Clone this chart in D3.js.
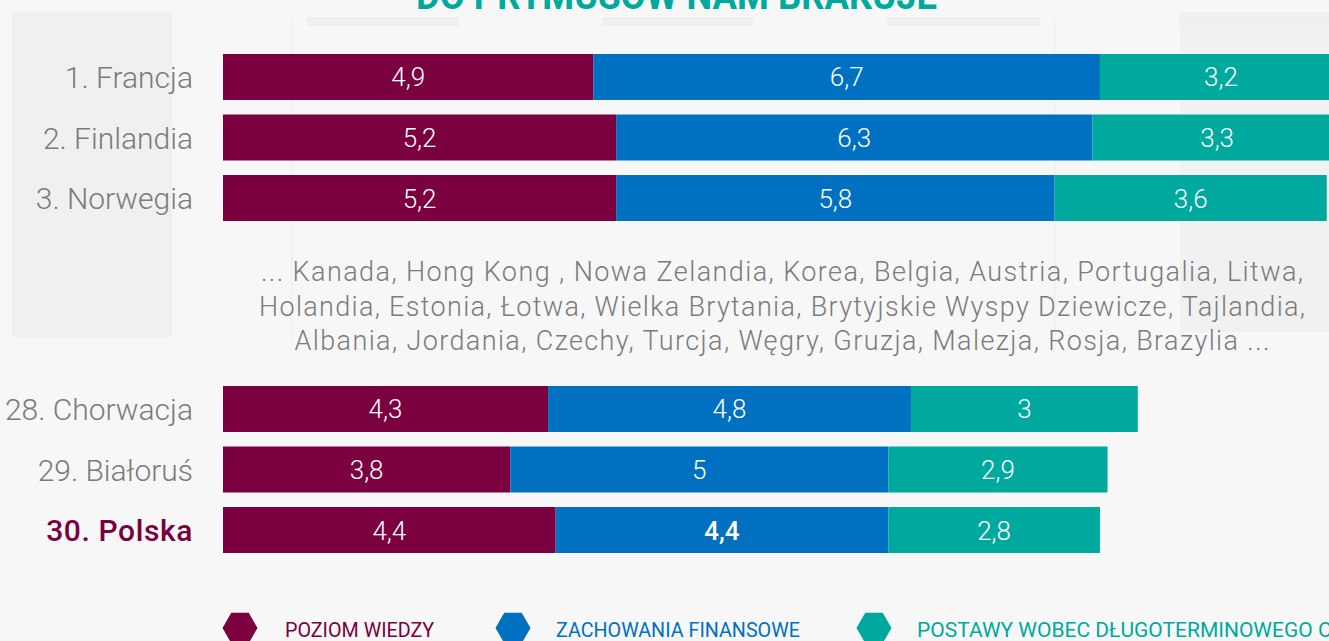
<!DOCTYPE html>
<html>
<head>
<meta charset="utf-8">
<script src="https://cdn.jsdelivr.net/npm/d3@7"></script>
<style>
  html, body { margin: 0; padding: 0; background: #f7f7f7; overflow: hidden; }
  svg { display: block; font-family: Roboto, "Noto Sans", sans-serif; }
</style>
</head>
<body>
<svg id="chart" width="1329" height="641"></svg>
<script>
// ---- data ----
const title = "DO PRYMUSÓW NAM BRAKUJE";
const topCountries = ["1. Francja", "2. Finlandia", "3. Norwegia"];
const bottomCountries = ["28. Chorwacja", "29. Białoruś", "30. Polska"];
const countries = topCountries.concat(bottomCountries);
const poziomWiedzy = [4.9, 5.2, 5.2, 4.3, 3.8, 4.4];
const zachowaniaFinansowe = [6.7, 6.3, 5.8, 4.8, 5, 4.4];
const postawy = [3.2, 3.3, 3.6, 3, 2.9, 2.8];
const seriesNames = ["POZIOM WIEDZY", "ZACHOWANIA FINANSOWE", "POSTAWY WOBEC DŁUGOTERMINOWEGO OSZCZĘDZANIA"];
const seriesKeys = ["wiedza", "zachowania", "postawy"];
const highlight = "30. Polska";
const otherCountries = [
  "... Kanada, Hong Kong , Nowa Zelandia, Korea, Belgia, Austria, Portugalia, Litwa,",
  "Holandia, Estonia, Łotwa, Wielka Brytania, Brytyjskie Wyspy Dziewicze, Tajlandia,",
  "Albania, Jordania, Czechy, Turcja, Węgry, Gruzja, Malezja, Rosja, Brazylia ..."
];

// ---- styles ----
const colors = ["#7a003f", "#0070c0", "#00a99d"];
const labelGray = "#7b7b7b";
const otherWidths = [1042, 1046, 975];
const legendScale = [0.94, 0.94, 1.0];

const table = countries.map((c, i) => ({
  country: c,
  wiedza: poziomWiedzy[i],
  zachowania: zachowaniaFinansowe[i],
  postawy: postawy[i]
}));

const svg = d3.select("#chart");

// background decoration (photo-like faint panels)
const bg = svg.append("g");
bg.append("rect").attr("x", 0).attr("y", 0).attr("width", 1329).attr("height", 641).attr("fill", "#f7f7f7");
bg.append("rect").attr("x", 12).attr("y", 12).attr("width", 160).attr("height", 325).attr("fill", "#f0f0f0");
bg.append("rect").attr("x", 1180).attr("y", 12).attr("width", 149).attr("height", 320).attr("fill", "#f1f1f1");
[[307, 152], [602, 151], [887, 153], [1179, 150]].forEach(([x, w]) => {
  bg.append("rect").attr("x", x).attr("y", 17).attr("width", w).attr("height", 9).attr("fill", "#efefef");
});
bg.append("rect").attr("x", 290).attr("y", 20).attr("width", 3).attr("height", 320).attr("fill", "#f3f3f3");
bg.append("rect").attr("x", 1053).attr("y", 20).attr("width", 3).attr("height", 320).attr("fill", "#f3f3f3");

// title (cut at top)
svg.append("text")
  .attr("x", 416).attr("y", 9)
  .attr("font-size", 38).attr("font-weight", 700)
  .attr("fill", "#00a99d")
  .attr("textLength", 521).attr("lengthAdjust", "spacingAndGlyphs")
  .text(title);

// scales
const x = d3.scaleLinear().domain([0, 14]).range([223, 223 + 14 * 75.6]);
const yTop = d3.scaleBand().domain(topCountries).range([54, 221]).paddingInner(0.24).paddingOuter(0);
const yBot = d3.scaleBand().domain(bottomCountries).range([386, 553]).paddingInner(0.24).paddingOuter(0);
const y = c => topCountries.includes(c) ? yTop(c) : yBot(c);
const bh = yTop.bandwidth();

const stack = d3.stack().keys(seriesKeys)(table);

const layers = svg.append("g").selectAll("g").data(stack).join("g")
  .attr("fill", (d, i) => colors[i]);

layers.selectAll("rect").data(d => d).join("rect")
  .attr("x", d => x(d[0]))
  .attr("y", d => y(d.data.country))
  .attr("width", d => x(d[1]) - x(d[0]))
  .attr("height", bh);

// value labels
const fmt = v => String(v).replace(".", ",");
stack.forEach((layer, li) => {
  svg.append("g").selectAll("text").data(layer).join("text")
    .attr("x", d => (x(d[0]) + x(d[1])) / 2)
    .attr("y", d => y(d.data.country) + bh / 2 + 9.5)
    .attr("text-anchor", "middle")
    .attr("font-size", 26)
    .attr("font-weight", d => (d.data.country === highlight && li === 1) ? 500 : 300)
    .attr("fill", "#ffffff")
    .text(d => fmt(d.data[layer.key]));
});

// country labels
svg.append("g").selectAll("text").data(countries).join("text")
  .attr("x", 193)
  .attr("y", c => y(c) + bh / 2 + 11)
  .attr("text-anchor", "end")
  .attr("font-size", 30)
  .attr("font-weight", c => c === highlight ? 500 : 300)
  .attr("letter-spacing", c => c === highlight ? 0.6 : 0)
  .attr("fill", c => c === highlight ? colors[0] : labelGray)
  .text(c => c);

// other countries text
svg.append("g").selectAll("text").data(otherCountries).join("text")
  .attr("x", 782)
  .attr("y", (d, i) => 281 + i * 34.5)
  .attr("text-anchor", "middle")
  .attr("font-size", 27)
  .attr("font-weight", 300)
  .attr("fill", labelGray)
  .attr("textLength", (d, i) => otherWidths[i])
  .attr("lengthAdjust", "spacing")
  .text(d => d);

// legend
const legendX = [240, 513, 874];
const hex = r => d3.range(6).map(k => {
  const a = Math.PI / 3 * k;
  return [r * Math.cos(a), r * Math.sin(a)];
});
const lg = svg.append("g").selectAll("g").data(seriesNames).join("g")
  .attr("transform", (d, i) => `translate(${legendX[i]},628)`);
lg.append("polygon")
  .attr("points", hex(17.5).map(p => p.join(",")).join(" "))
  .attr("fill", (d, i) => colors[i]);
lg.append("text")
  .attr("transform", (d, i) => `translate(${i === 0 ? 45 : 43},9) scale(${legendScale[i]},1)`)
  .attr("font-size", 21)
  .attr("font-weight", 400)
  .attr("fill", (d, i) => colors[i])
  .text(d => d);
</script>
</body>
</html>
